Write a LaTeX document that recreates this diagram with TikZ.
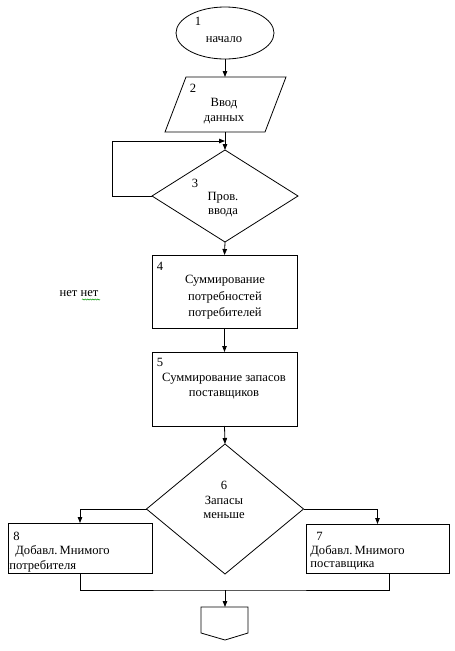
\documentclass[tikz,border=0pt]{standalone}
\usepackage{fontspec}
\setmainfont{Liberation Serif}
\usetikzlibrary{shapes.geometric,arrows.meta,decorations.pathmorphing}
\begin{document}
\begin{tikzpicture}[x=1pt,y=-1pt,
  line width=0.8pt,
  every node/.style={font=\fontsize{12.6}{14}\selectfont},
  arr/.style={-{Triangle[length=6pt,width=4.5pt]}},
  box/.style={draw,rectangle,inner sep=0pt,outer sep=0pt},
  dia/.style={draw,diamond,inner sep=0pt,outer sep=0pt},
  txt/.style={inner sep=0pt,anchor=center},
  ltxt/.style={inner sep=0pt,anchor=west}]
\useasboundingbox (0,0) rectangle (455,651);

% 1 start
\node[draw,ellipse,inner sep=0pt,outer sep=0pt,minimum width=98pt,minimum height=52pt] (n1) at (225,33) {};
\node[txt] (t1a) at (198,21) {1};
\node[txt] (t1b) at (224,40) {начало};

% 2 input (parallelogram)
\draw (186,77) -- (286,77) -- (265,132) -- (165,132) -- cycle;
\node[inner sep=0pt,outer sep=0pt,minimum width=80pt,minimum height=55pt] (n2) at (225,104.5) {};
\node[txt] (t2a) at (193,88) {2};
\node[txt] (t2b) at (224,104) {Ввод};
\node[txt] (t2c) at (224,120) {данных};

% 3 check
\node[dia,minimum width=146pt,minimum height=92pt] (n3) at (225,196) {};
\node[txt] (t3a) at (195,183) {3};
\node[txt] (t3b) at (223,198) {Пров.};
\node[txt] (t3c) at (223,213) {ввода};
\coordinate (loopend) at (225,141);

% 4
\node[box,minimum width=145pt,minimum height=73pt] (n4) at (224.5,291.5) {};
\node[txt] (t4a) at (160,266) {4};
\node[txt] (t4b) at (225,281) {Суммирование};
\node[txt] (t4c) at (225,297) {потребностей};
\node[txt] (t4d) at (225,313) {потребителей};

% side text
\node[txt] (nn) at (79,294) {нет нет};
\draw[green!60!black,line width=0.5pt,decorate,decoration={snake,amplitude=0.6pt,segment length=2.5pt}] (82,299.5) -- (100,299.5);

% 5
\node[box,minimum width=145pt,minimum height=74pt] (n5) at (224.5,389) {};
\node[txt] (t5a) at (160,362) {5};
\node[txt] (t5b) at (224,379) {Суммирование запасов};
\node[txt] (t5c) at (224,395) {поставщиков};

% 6
\node[dia,minimum width=157pt,minimum height=130pt] (n6) at (225,509) {};
\node[txt] (t6a) at (224,485) {6};
\node[txt] (t6b) at (224,500) {Запасы};
\node[txt] (t6c) at (224,516) {меньше};

% 8
\node[box,minimum width=144pt,minimum height=50pt] (n8) at (80,548) {};
\node[ltxt] (t8a) at (13,536) {8};
\node[ltxt] (t8b) at (15,551) {Добавл.\,Мнимого};
\node[ltxt] (t8c) at (9,566) {потребителя};

% 7
\node[box,minimum width=143pt,minimum height=49pt] (n7) at (377.5,548.5) {};
\node[ltxt] (t7a) at (316,536) {7};
\node[ltxt] (t7b) at (310,551) {Добавл.\,Мнимого};
\node[ltxt] (t7c) at (310,566) {поставщика};

% connector
\draw (201,607) -- (248,607) -- (248,633) -- (225,640) -- (201,633) -- cycle;
\coordinate (n9) at (225,607);
\coordinate (j) at (225,590);

% edges
\draw[arr] (n1) -- (n2.north);
\draw[arr] (n2.south) -- (n3.north);
\draw[arr] (n3.west) -- (112,196) |- (loopend);
\draw[arr] (n3.south) -- (n4.north);
\draw[arr] (n4.south) -- (n5.north);
\draw[arr] (n5.south) -- (n6.north);
\draw[arr] (n6.west) -| (n8.north);
\draw[arr] (n6.east) -| (n7.north);
\draw (n8.south) |- (j) -| ([xshift=11.5pt]n7.south);
\draw[arr] (j) -- (n9);
\end{tikzpicture}
\end{document}
